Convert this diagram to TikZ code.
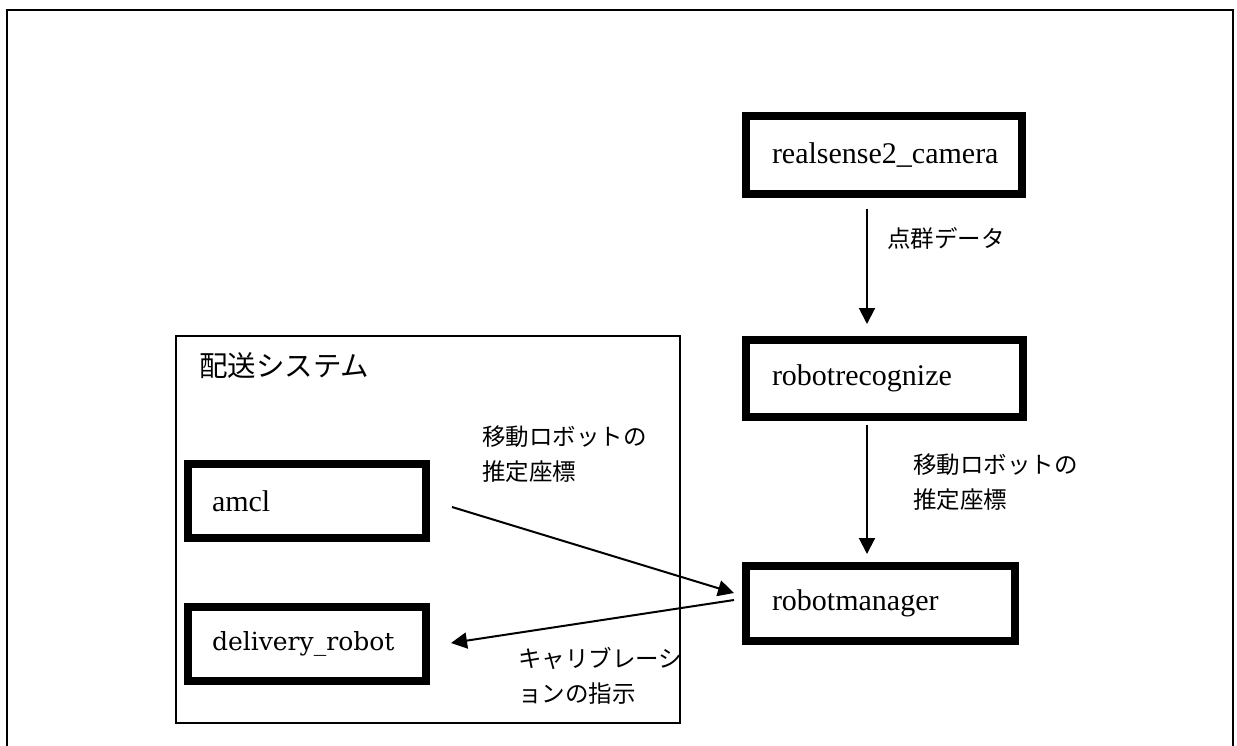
\documentclass[tikz,border=0pt]{standalone}
\usepackage{fontspec}
\setmainfont{Liberation Serif}
\newfontfamily\jp{Noto Sans CJK JP}
\newfontfamily\dvs{DejaVu Serif}
\usetikzlibrary{arrows.meta,calc}
\tikzset{
  box/.style={draw=black, line width=8pt, inner sep=0pt, align=left,
    font=\fontsize{30}{36}\selectfont},
  grpbox/.style={draw=black, line width=1.8pt, inner sep=0pt},
  lbl/.style={inner sep=0pt, align=left, font=\jp\fontsize{23.5}{35}\selectfont},
  arr/.style={line width=2pt, -{Triangle[width=16pt,length=16pt]}}
}
\begin{document}
\begin{tikzpicture}[x=1pt,y=-1pt]
\clip (0,0) rectangle (1237,745);
\fill[white] (0,0) rectangle (1237,745);
\draw[line width=2pt] (7,10) rectangle (1233,780);
% group
\node[grpbox, minimum width=504pt, minimum height=387pt] (grp) at (428,529.5) {};
\node[anchor=west, inner sep=0pt, font=\jp\fontsize{28.5}{30}\selectfont] (grptitle) at (199,366) {配送システム};
% boxes
\node[box, minimum width=276pt, minimum height=78pt, text width=224pt] (rs) at (884,155) {realsense2\_camera};
\node[box, minimum width=277pt, minimum height=77pt, text width=225pt] (rr) at (884.5,378.5) {robotrecognize};
\node[box, minimum width=269pt, minimum height=75pt, text width=217pt] (rm) at (880.5,603.5) {robotmanager};
\node[box, minimum width=238pt, minimum height=74pt, text width=190pt] (amcl) at (307,501) {amcl};
\node[box, minimum width=238pt, minimum height=74pt, text width=190pt, font=\dvs\fontsize{25}{30}\selectfont] (dr) at (307,644) {delivery\_robot};
% labels
\node[lbl, anchor=west] (l1) at (887,238) {点群データ};
\node[lbl, anchor=west] (l2) at (913,482) {移動ロボットの\\推定座標};
\node[lbl, anchor=west] (l3) at (482,454) {移動ロボットの\\推定座標};
\node[lbl, anchor=west] (l4) at (518,676) {キャリブレーシ\\ョンの指示};
% connectors
\coordinate (ax) at (867,0);
\draw[arr] ($(rs.south -| ax)+(0,11)$) -- ($(rr.north -| ax)+(0,-12)$);
\draw[arr] ($(rr.south -| ax)+(0,4)$) -- ($(rm.north -| ax)+(0,-8)$);
\draw[arr] ($(amcl.east)+(22,6)$) -- ($(rm.west)+(-8,-10.5)$);
\draw[arr] ($(rm.west)+(-8,-3.5)$) -- ($(dr.east)+(21,-1)$);
\end{tikzpicture}
\end{document}
